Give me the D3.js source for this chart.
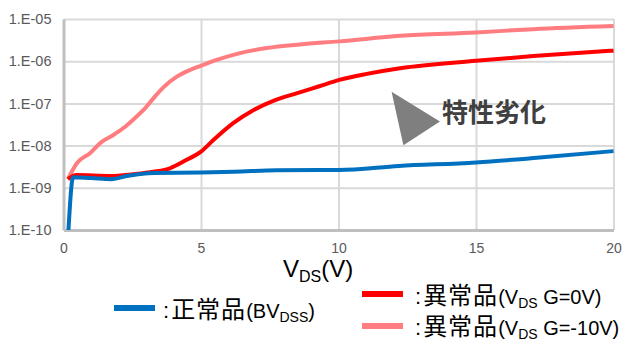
<!DOCTYPE html>
<html><head><meta charset="utf-8">
<script src="https://cdn.jsdelivr.net/npm/d3@7"></script>
<style>body{margin:0;background:#fff}svg{display:block}</style>
</head><body><svg id="c" width="632" height="340"></svg>
<script>
// ---- data ----
const xTicks = [0, 5, 10, 15, 20];
const yTicks = [1e-10, 1e-9, 1e-8, 1e-7, 1e-6, 1e-5];
const yTickLabels = ["1.E-10", "1.E-09", "1.E-08", "1.E-07", "1.E-06", "1.E-05"];

const normalX = [0.18, 0.35, 1.0, 1.75, 2.3, 3.3, 5.0, 6.2, 7.75, 9.3, 10.0, 12.2, 15.0, 17.0, 20.0];
const normalY = [1e-10, 1.78e-9, 1.7e-9, 1.6e-9, 1.9e-9, 2.25e-9, 2.3e-9, 2.4e-9, 2.6e-9, 2.65e-9, 2.65e-9, 3.3e-9, 4.0e-9, 5.0e-9, 7.4e-9];

const g0X = [0.16, 0.48, 1.7, 2.54, 3.27, 3.87, 4.48, 5.0, 5.45, 6.17, 6.9, 7.63, 8.5, 9.3, 10.03, 11.03, 12.24, 15.0, 17.08, 20.0];
const g0Y = [1.6e-9, 2.0e-9, 1.9e-9, 2.1e-9, 2.4e-9, 2.9e-9, 4.6e-9, 7.2e-9, 1.35e-8, 3.4e-8, 6.9e-8, 1.15e-7, 1.75e-7, 2.55e-7, 3.6e-7, 5.0e-7, 6.8e-7, 1.02e-6, 1.32e-6, 1.78e-6];

const gm10X = [0.16, 0.3, 0.48, 0.96, 1.39, 1.81, 2.24, 2.6, 2.9, 3.27, 3.63, 4.12, 4.6, 5.0, 5.57, 6.42, 7.39, 8.6, 10.03, 12.24, 15.0, 17.07, 20.0];
const gm10Y = [1.6e-9, 2.4e-9, 3.8e-9, 6.6e-9, 1.23e-8, 1.78e-8, 2.8e-8, 4.5e-8, 6.9e-8, 1.32e-7, 2.4e-7, 4.3e-7, 6.2e-7, 7.8e-7, 1.07e-6, 1.55e-6, 2.05e-6, 2.5e-6, 2.95e-6, 4.0e-6, 4.8e-6, 5.75e-6, 6.8e-6];

const seriesNames = ["正常品", "異常品", "異常品"];
const seriesColors = ["#0070c0", "#ff0000", "#ff7c80"];

const annoText = "特性劣化";
const annoTriX = [11.93, 13.69, 12.36];
const annoTriY = [1.9e-7, 3.7e-8, 1.02e-8];
const annoTextX = 13.76;
const annoTextY = 3.6e-8;

// ---- chart ----
const svg = d3.select("#c");
const x = d3.scaleLinear().domain([0, 20]).range([63.5, 613.5]);
const y = d3.scaleLog().domain([1e-10, 1e-5]).range([230, 19]);
const latin = "'Liberation Sans', Arial, sans-serif";
const cjk = "'Noto Sans CJK JP', sans-serif";

// grid
svg.append("g").attr("transform", "translate(0,230)")
  .call(d3.axisBottom(x).tickValues(xTicks.slice(1)).tickSize(-211).tickFormat(""))
  .call(g => g.select(".domain").remove())
  .call(g => g.selectAll("line").attr("stroke", "#d9d9d9").attr("stroke-width", 2));
svg.append("g").attr("transform", "translate(63.5,0)")
  .call(d3.axisLeft(y).tickValues(yTicks.slice(1)).tickSize(-550).tickFormat(""))
  .call(g => g.select(".domain").remove())
  .call(g => g.selectAll("line").attr("stroke", "#d9d9d9").attr("stroke-width", 2));

// axes
const xa = svg.append("g").attr("transform", "translate(0,230)")
  .call(d3.axisBottom(x).tickValues(xTicks).tickSize(0).tickPadding(13).tickFormat(d3.format("d")));
xa.select(".domain").attr("stroke", "#bfbfbf").attr("stroke-width", 3);
xa.selectAll("text").attr("font-family", latin).attr("font-size", 14).attr("fill", "#595959");

const ya = svg.append("g").attr("transform", "translate(63.5,0)")
  .call(d3.axisLeft(y).tickValues(yTicks).tickSize(0).tickPadding(12)
    .tickFormat((d, i) => yTickLabels[i]));
ya.select(".domain").attr("stroke", "#bfbfbf").attr("stroke-width", 3);
ya.selectAll("text").attr("font-family", latin).attr("font-size", 14.5).attr("fill", "#595959");

// lines
const line = d3.line().x(d => x(d[0])).y(d => y(d[1])).curve(d3.curveMonotoneX);
const series = [
  { xs: gm10X, ys: gm10Y, c: seriesColors[2] },
  { xs: g0X, ys: g0Y, c: seriesColors[1] },
  { xs: normalX, ys: normalY, c: seriesColors[0] }
];
series.forEach(s => {
  svg.append("path").datum(s.xs.map((v, i) => [v, s.ys[i]]))
    .attr("d", line).attr("fill", "none").attr("stroke", s.c)
    .attr("stroke-width", 4).attr("stroke-linejoin", "round").attr("stroke-linecap", "butt");
});

// annotation
svg.append("polygon")
  .attr("points", annoTriX.map((v, i) => [x(v), y(annoTriY[i])].join(",")).join(" "))
  .attr("fill", "#7f7f7f");
svg.append("text").attr("x", x(annoTextX)).attr("y", y(annoTextY))
  .attr("font-family", cjk).attr("font-size", 26).attr("font-weight", "bold")
  .attr("fill", "#404040").text(annoText);

// x axis title
const xt = svg.append("text").attr("x", 283).attr("y", 277).attr("fill", "#000")
  .attr("font-family", latin).attr("font-size", 24);
xt.append("tspan").text("V");
xt.append("tspan").attr("font-size", 16).attr("dy", 5).text("DS");
xt.append("tspan").attr("dy", -5).text("(V)");

// legend
const legend = [
  { lx: 114, ly: 308, tx: 163, ty: 318, c: seriesColors[0], name: seriesNames[0], pre: "(BV", sub: "DSS", post: ")" },
  { lx: 362, ly: 294, tx: 415, ty: 304, c: seriesColors[1], name: seriesNames[1], pre: "(V", sub: "DS", post: " G=0V)" },
  { lx: 362, ly: 326, tx: 415, ty: 335, c: seriesColors[2], name: seriesNames[2], pre: "(V", sub: "DS", post: " G=-10V)" }
];
legend.forEach(l => {
  svg.append("line").attr("x1", l.lx).attr("x2", l.lx + 41).attr("y1", l.ly).attr("y2", l.ly)
    .attr("stroke", l.c).attr("stroke-width", 6);
  const t = svg.append("text").attr("x", l.tx).attr("y", l.ty).attr("fill", "#000");
  t.append("tspan").attr("font-family", latin).attr("font-size", 22).text(":");
  t.append("tspan").attr("font-family", cjk).attr("font-size", 24).attr("dx", 2).attr("letter-spacing", 1).text(l.name);
  t.append("tspan").attr("font-family", latin).attr("font-size", 20).text(l.pre);
  t.append("tspan").attr("font-family", latin).attr("font-size", 14).attr("dy", 4).text(l.sub);
  t.append("tspan").attr("font-family", latin).attr("font-size", 20).attr("dy", -4).text(l.post);
});
</script>
</body></html>
